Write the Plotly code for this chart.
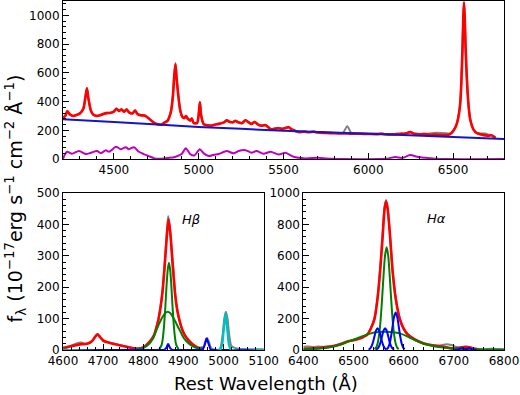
import plotly.graph_objects as go

# ---------------- Top panel: full spectrum ----------------
top_wave = [4200,4215,4225,4240,4260,4280,4300,4320,4332,4341,
            4350,4365,4380,4400,4420,4440,4460,4480,4500,4515,
            4530,4545,4560,4575,4590,4610,4625,4640,4660,4680,
            4700,4720,4740,4760,4780,4800,4815,4826,4838,4848,
            4856,4863,4870,4880,4891,4903,4915,4925,4935,4950,
            4959,4970,4990,4999,5007,5015,5030,5050,5070,5100,
            5120,5150,5165,5180,5200,5215,5235,5255,5276,5295,
            5312,5330,5350,5370,5394,5410,5424,5445,5470,5490,
            5510,5530,5550,5570,5588,5620,5650,5680,5700,5750,
            5800,5850,5876,5900,5950,6000,6050,6076,6100,6150,
            6180,6220,6247,6270,6300,6330,6360,6400,6430,6460,
            6480,6500,6515,6525,6535,6542,6548,6555,6560,6564,
            6568,6573,6578,6585,6592,6600,6610,6620,6640,6665,
            6690,6710,6724,6740,6750]
top_model = [285,305,333,312,300,308,318,350,430,493,
             420,335,308,300,305,315,320,322,330,350,
             335,345,330,345,325,318,338,312,305,303,
             288,268,250,242,240,255,265,290,340,440,
             580,660,560,440,340,295,285,300,282,268,
             282,252,250,300,396,300,242,235,232,240,
             245,255,270,260,255,265,255,250,270,255,
             245,258,240,232,236,222,208,210,215,210,
             215,222,205,195,188,190,187,190,185,182,
             180,178,178,177,176,175,174,176,173,172,
             175,178,188,176,172,174,170,170,168,168,
             172,195,225,260,320,390,520,760,980,1090,
             1000,800,640,470,360,280,235,205,180,172,
             165,162,166,155,148]
top_data = [288,300,335,310,302,305,320,352,432,495,
            422,338,305,302,308,312,322,320,333,352,
            338,348,332,348,322,320,340,315,302,305,
            290,270,248,240,238,255,265,292,342,445,
            585,668,565,445,342,298,288,302,285,270,
            285,255,252,302,398,302,245,238,235,242,
            248,258,272,262,258,268,258,252,272,258,
            248,260,242,235,238,225,210,212,218,212,
            218,225,208,198,190,192,189,192,187,184,
            182,183,229,182,178,177,176,178,175,174,
            177,180,190,178,175,176,178,183,182,180,
            178,197,228,262,322,392,522,762,985,1095,
            1005,805,645,475,362,282,238,208,182,178,
            178,170,168,160,150]
cont_wave = [4200,4500,5000,5500,6000,6500,6800]
cont_flux = [277,258,224,198,176,154,139]
feii_wave = [4200,4210,4224,4253,4294,4335,4365,4400,4424,4453,
             4471,4512,4541,4571,4588,4618,4647,4676,4706,4740,
             4780,4820,4860,4900,4924,4950,4975,5006,5030,5059,
             5090,5118,5165,5206,5235,5276,5312,5341,5382,5424,
             5471,5512,5559,5629,5706,5782,5850,6100,6159,6200,
             6247,6294,6341,6400,6450,6800]
feii_flux = [0,30,51,37,56,35,44,56,42,62,
             51,86,69,83,69,83,51,35,21,5,
             3,8,15,35,76,35,25,69,40,21,
             30,35,56,40,56,62,44,56,37,51,
             32,44,16,5,9,2,0,2,14,8,
             28,14,9,3,0,0]

# ---------------- Bottom-left: H-beta region ----------------
hb_model_wave = [4600,4620,4642,4660,4672,4680,4686,4692,4700,4715,
                 4730,4750,4770,4785,4800,4815,4826,4832,4838,4843,
                 4848,4853,4858,4863,4868,4873,4880,4885,4891,4897,
                 4903,4912,4923,4935,4950]
hb_model = [5,12,18,20,28,42,50,42,30,23,
            18,13,7,4,8,25,45,68,98,135,
            185,262,350,416,365,275,170,125,90,65,
            48,32,18,8,3]
hb_data_wave = [4600,4620,4635,4645,4655,4665,4675,4686,4695,4705,
                4720,4740,4760,4780,4800,4815,4826,4832,4838,4843,
                4848,4853,4858,4862,4866,4870,4875,4880,4885,4891,
                4897,4903,4912,4923,4935,4950,4955,4959,4963,4970,
                4990,4998,5002,5006,5010,5014,5020,5030,5050,5100]
hb_data = [8,14,22,24,20,22,32,50,38,28,
           22,16,10,5,8,25,45,68,100,140,
           190,268,360,427,395,330,260,172,126,92,
           66,49,32,18,8,10,30,38,28,5,
           2,50,100,122,100,50,12,6,3,2]
hb_broad_wave = [4780,4800,4815,4825,4832,4840,4848,4855,4861,4867,
                 4874,4882,4892,4900,4914,4930,4950]
hb_broad = [2,7,20,38,60,85,105,118,122,118,
            105,85,60,40,20,8,2]
hb_narrow_wave = [4840,4846,4849,4852,4855,4858,4861,4864,4867,4870,
                  4873,4876,4879,4882,4888]
hb_narrow = [2,17,40,80,137,204,256,278,256,204,
             137,80,40,17,2]
hb_blue_wave = [4600,4852,4857,4862,4867,4872,4948,4953,4958,4963,4968,5100]
hb_blue = [0,0,6,20,6,0,0,15,38,15,0,0]
oiii_wave = [4600,4990,4996,5000,5005,5010,5014,5020,5100]
oiii_flux = [0,0,15,60,118,60,15,0,0]

# ---------------- Bottom-right: H-alpha region ----------------
ha_model_wave = [6400,6430,6460,6476,6489,6502,6513,6520,6528,6535,
                 6542,6548,6553,6558,6562,6565,6568,6572,6578,6584,
                 6592,6600,6608,6616,6625,6640,6660,6680,6700,6710,
                 6717,6724,6731,6740,6750]
ha_model = [8,12,25,40,55,64,74,84,100,140,
            200,330,500,720,900,945,900,760,500,330,
            200,135,100,80,62,42,28,20,8,12,
            18,20,18,8,3]
ha_data_wave = [6400,6410,6420,6430,6440,6450,6460,6476,6489,6502,
                6513,6520,6528,6535,6542,6548,6553,6558,6562,6565,
                6568,6572,6578,6584,6592,6600,6608,6616,6625,6640,
                6660,6675,6685,6695,6705,6717,6724,6731,6745,6760,
                6775,6790,6800]
ha_data = [20,22,19,22,20,23,25,40,55,63,
           73,84,102,143,205,338,510,735,915,955,
           905,765,505,335,205,138,102,82,63,44,
           30,30,36,32,20,18,20,18,8,5,
           8,6,5]
ha_broad_wave = [6400,6430,6450,6470,6489,6505,6515,6535,6550,6562,
                 6575,6592,6605,6615,6630,6641,6655,6667,6690,6720,
                 6760,6800]
ha_broad = [4,9,16,30,53,72,85,106,114,117,
            114,106,90,74,52,38,28,21,12,6,
            3,2]
ha_narrow_wave = [6542,6545,6548,6551,6554,6557,6560,6563,6566,6569,
                  6572,6575,6578,6581,6584,6587,6590]
ha_narrow = [5,15,41,96,191,327,481,605,654,605,
             481,327,191,96,41,15,5]
nii1_wave = [6530,6533,6536,6539,6542,6545,6548,6551,6554,6557,6560,6563,6566]
nii1_flux = [3,9,24,51,89,124,138,124,89,51,24,9,3]
ha_nb_wave = [6545,6548,6551,6554,6557,6560,6563,6566,6569,6572,6575,6578,6581]
ha_nb_flux = [3,9,24,51,89,124,138,124,89,51,24,9,3]
nii2_wave = [6566,6569,6572,6575,6578,6581,6584,6587,6590,6593,6596,6599,6602]
nii2_flux = [5,15,41,89,154,213,238,213,154,89,41,15,5]
sii_wave = [6700,6708,6712,6717,6721,6724,6727,6731,6736,6745]
sii_flux = [0,3,8,12,8,7,8,12,5,0]

RED = "#ff0000"
GRAY = "#808080"
BLUE = "#0000ff"
CBLUE = "#1414c8"
GREEN = "#008000"
MAG = "#bf00bf"
CYAN = "#00bfbf"

fig = go.Figure()


def add(x, y, color, width, xa, ya, shape="spline"):
    fig.add_trace(go.Scatter(x=x, y=y, mode="lines",
                             line=dict(color=color, width=width, shape=shape, smoothing=0.7),
                             xaxis=xa, yaxis=ya, hoverinfo="skip"))


# top
add(top_wave, top_data, GRAY, 2, "x", "y")
add(top_wave, top_model, RED, 2.6, "x", "y")
add(cont_wave, cont_flux, CBLUE, 2, "x", "y")
add(feii_wave, feii_flux, MAG, 2, "x", "y")

# H-beta
add(hb_data_wave, hb_data, GRAY, 2, "x2", "y2")
add(hb_model_wave, hb_model, RED, 2.6, "x2", "y2")
add(hb_broad_wave, hb_broad, GREEN, 2, "x2", "y2")
add(hb_narrow_wave, hb_narrow, GREEN, 2, "x2", "y2")
add(hb_blue_wave, hb_blue, BLUE, 2, "x2", "y2", "linear")
add(oiii_wave, oiii_flux, CYAN, 2.5, "x2", "y2")

# H-alpha
add(ha_data_wave, ha_data, GRAY, 2, "x3", "y3")
add(ha_model_wave, ha_model, RED, 2.6, "x3", "y3")
add(ha_broad_wave, ha_broad, GREEN, 2, "x3", "y3")
add(ha_narrow_wave, ha_narrow, GREEN, 2, "x3", "y3")
add(nii1_wave, nii1_flux, BLUE, 2, "x3", "y3")
add(ha_nb_wave, ha_nb_flux, BLUE, 2, "x3", "y3")
add(nii2_wave, nii2_flux, BLUE, 2, "x3", "y3")
add(sii_wave, sii_flux, BLUE, 2, "x3", "y3")


def ax(rng, dtick, mdtick, domain, anchor):
    return dict(range=rng, dtick=dtick, domain=domain, anchor=anchor,
                automargin=False, ticklabeloverflow="allow",
                showline=True, linecolor="black", linewidth=1, mirror=True,
                ticks="inside", ticklen=6, tickcolor="black", tickwidth=1,
                showgrid=False, zeroline=False,
                tickfont=dict(size=12, family="DejaVu Sans", color="black"),
                minor=dict(ticks="inside", ticklen=3, dtick=mdtick, tickcolor="black", showgrid=False))


fig.update_layout(
    width=520, height=395,
    margin=dict(l=63, r=16, t=1, b=45, autoexpand=False),
    plot_bgcolor="white", paper_bgcolor="white",
    showlegend=False,
    font=dict(family="DejaVu Sans", size=12, color="black"),
    xaxis=ax([4200, 6800], 500, 100, [0, 1], "y"),
    yaxis=ax([0, 1100], 200, 40, [0.547, 1], "x"),
    xaxis2=ax([4600, 5100], 100, 20, [0, 0.455], "y2"),
    yaxis2=ax([0, 500], 100, 20, [0, 0.45], "x2"),
    xaxis3=ax([6400, 6800], 100, 20, [0.545, 1], "y3"),
    yaxis3=ax([0, 1000], 200, 40, [0, 0.45], "x3"),
    annotations=[
        dict(x=4919, y=417, xref="x2", yref="y2", text="<i>Hβ</i>", showarrow=False,
             font=dict(size=13, family="DejaVu Sans")),
        dict(x=6665, y=840, xref="x3", yref="y3", text="<i>Hα</i>", showarrow=False,
             font=dict(size=13, family="DejaVu Sans")),
        dict(x=0.46, y=-0.095, xref="paper", yref="paper", text="Rest Wavelength (Å)",
             showarrow=False, yanchor="middle", font=dict(size=18, family="DejaVu Sans")),
        dict(x=-0.108, y=0.4355, xref="paper", yref="paper", textangle=-90,
             text="f<sub>λ</sub> (10<sup>−17</sup>erg s<sup>−1</sup> cm<sup>−2</sup> Å<sup>−1</sup>)",
             showarrow=False, xanchor="center", yanchor="middle",
             font=dict(size=19, family="DejaVu Sans")),
    ],
)

fig.write_html(
    "out.html",
    config={"displayModeBar": False},
    post_script=("document.body.style.margin='0px';document.body.style.padding='0px';"
                 "var d=document.getElementById('{plot_id}');"
                 "d.style.position='absolute';d.style.top='0px';d.style.left='0px';"),
)
